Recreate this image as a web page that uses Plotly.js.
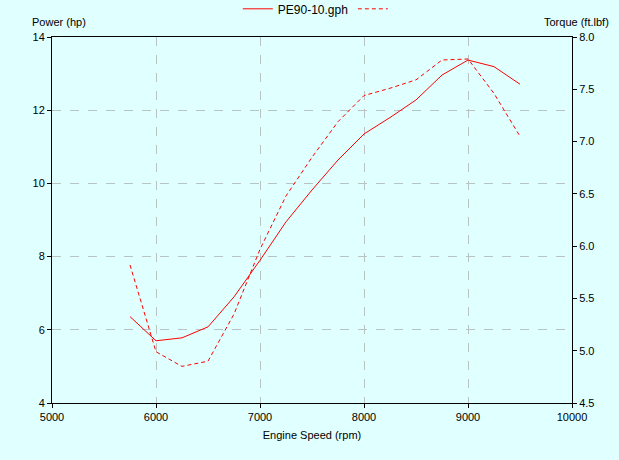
<!DOCTYPE html>
<html>
<head>
<meta charset="utf-8">
<script src="https://cdn.plot.ly/plotly-3.0.1.min.js"></script>
<style>
  body { margin: 0; background: #e0ffff; }
  #chart { width: 619px; height: 460px; }
</style>
</head>
<body>
<div id="chart"></div>
<script>
// engine speed (rpm)
var rpm = [5750, 6000, 6250, 6500, 6750, 7000, 7250, 7500, 7750, 8000, 8250, 8500, 8750, 9000, 9250, 9500];
// power (hp), solid line
var power = [6.36, 5.70, 5.78, 6.08, 6.90, 7.90, 8.95, 9.82, 10.64, 11.35, 11.80, 12.28, 12.96, 13.37, 13.19, 12.71];
// torque (ft.lbf), dashed line
var torque = [5.82, 4.99, 4.85, 4.90, 5.35, 5.97, 6.48, 6.85, 7.19, 7.44, 7.51, 7.59, 7.78, 7.79, 7.46, 7.05];

var fileName = 'PE90-10.gph';

var powerTrace = {
    x: rpm,
    y: power,
    name: fileName,
    type: 'scatter',
    mode: 'lines',
    line: { color: '#ff0000', width: 1 }
};

var torqueTrace = {
    x: rpm,
    y: torque,
    name: ' ',
    yaxis: 'y2',
    type: 'scatter',
    mode: 'lines',
    line: { color: '#ff0000', width: 1, dash: '4px,3px' }
};

var axisFont = { family: 'Liberation Sans, Arial, sans-serif', size: 11, color: '#000' };
var legendFont = { family: 'Liberation Sans, Arial, sans-serif', size: 12, color: '#000' };

var layout = {
    width: 619,
    height: 460,
    paper_bgcolor: '#e0ffff',
    plot_bgcolor: '#e0ffff',
    font: axisFont,
    margin: { l: 52, r: 47, t: 37, b: 57, autoexpand: false },
    showlegend: true,
    legend: {
        orientation: 'h',
        x: 0.515,
        xanchor: 'center',
        y: 1.077,
        yanchor: 'middle',
        bgcolor: 'rgba(0,0,0,0)',
        font: legendFont
    },
    xaxis: {
        range: [5000, 10000],
        dtick: 1000,
        tickformat: 'd',
        showline: true,
        linecolor: '#000',
        linewidth: 1,
        mirror: true,
        ticks: 'outside',
        ticklen: 4,
        tickcolor: '#000',
        showgrid: true,
        gridcolor: '#b8c4c4',
        griddash: 'dash',
        zeroline: false,
        tickfont: axisFont,
        title: { text: 'Engine Speed (rpm)', font: axisFont, standoff: 9 }
    },
    yaxis: {
        range: [4, 14],
        dtick: 2,
        showline: true,
        linecolor: '#000',
        linewidth: 1,
        mirror: true,
        ticks: 'outside',
        ticklen: 4,
        tickcolor: '#000',
        showgrid: true,
        gridcolor: '#b8c4c4',
        griddash: 'dash',
        zeroline: false,
        tickfont: axisFont
    },
    yaxis2: {
        overlaying: 'y',
        side: 'right',
        range: [4.5, 8.0],
        dtick: 0.5,
        tickformat: '.1f',
        showline: true,
        linecolor: '#000',
        linewidth: 1,
        ticks: 'outside',
        ticklen: 4,
        tickcolor: '#000',
        showgrid: false,
        zeroline: false,
        tickfont: axisFont
    },
    annotations: [
        {
            text: 'Power (hp)', xref: 'paper', yref: 'paper',
            x: -0.043, y: 1.02, xanchor: 'left', yanchor: 'bottom',
            showarrow: false, font: axisFont
        },
        {
            text: 'Torque (ft.lbf)', xref: 'paper', yref: 'paper',
            x: 1.075, y: 1.02, xanchor: 'right', yanchor: 'bottom',
            showarrow: false, font: axisFont
        }
    ]
};

Plotly.newPlot('chart', [powerTrace, torqueTrace], layout, { displayModeBar: false, staticPlot: true });
</script>
</body>
</html>
